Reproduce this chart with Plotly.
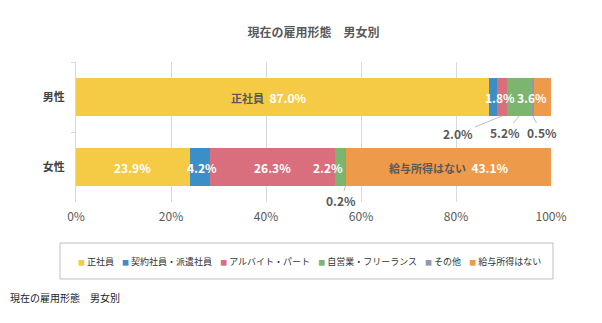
import plotly.graph_objects as go
import numpy as np

# ---- data ----
categories = ["男性", "女性"]
series_names = ["正社員", "契約社員・派遣社員", "アルバイト・パート", "自営業・フリーランス", "その他", "給与所得はない"]
male_values = [87.0, 1.8, 2.0, 5.2, 0.5, 3.6]
female_values = [23.9, 4.2, 26.3, 2.2, 0.2, 43.1]
x_tick_values = [0, 20, 40, 60, 80, 100]
x_tick_labels = ["0%", "20%", "40%", "60%", "80%", "100%"]
title_text = "現在の雇用形態　男女別"

colors = ["#F5CB45", "#3A8FC8", "#D96F7C", "#7CB66E", "#9197AE", "#EE9A4B"]
FONT = "Noto Sans CJK JP"
LABEL_GRAY = "#595959"

W, H = 602, 323
ML, MR, MT, MB = 76, 51, 62, 121
PW, PH = W - ML - MR, H - MT - MB


def px_x(p):
    return (p - ML) / PW


def px_y(p):
    return (H - MB - p) / PH


fig = go.Figure()
for i, name in enumerate(series_names):
    fig.add_trace(go.Bar(
        name=name,
        y=categories,
        x=[male_values[i], female_values[i]],
        orientation="h",
        marker=dict(color=colors[i], line=dict(width=0)),
        showlegend=False,
        hoverinfo="skip",
    ))

# normalized cumulative positions (100% stacked)
rows = {"男性": male_values, "女性": female_values}
mids = {}
for cat, vals in rows.items():
    v = np.array(vals, dtype=float)
    v = v / v.sum() * 100
    cum = np.concatenate([[0], np.cumsum(v)])
    mids[cat] = (cum[:-1] + cum[1:]) / 2

half = (1 - 0.46) / 2
ann = []
# inside labels: (category, series index, show name, xshift)
inside = [("男性", 0, True, -13), ("男性", 1, False, 7), ("男性", 5, False, -10),
          ("女性", 0, False, 0), ("女性", 1, False, 2), ("女性", 2, False, 0),
          ("女性", 3, False, -12), ("女性", 5, True, 0)]
for cat, si, show_name, xs in inside:
    val = rows[cat][si]
    t = f"<span style='color:white'>{val:.1f}%</span>"
    if show_name:
        t = f"<span style='color:{LABEL_GRAY};font-size:11px'>{series_names[si]}</span>  " + t
    ann.append(dict(x=mids[cat][si], y=cat, xref="x", yref="y", text=t, showarrow=False,
                    xshift=xs, font=dict(family=FONT, size=12, color="white", weight="bold")))

# callout labels: (category, series index, ax, ay)
callouts = [("男性", 2, -44, 18), ("男性", 3, -14, 17), ("男性", 4, 9, 17), ("女性", 4, -5, 15)]
for cat, si, ax, ay in callouts:
    yi = categories.index(cat) + half
    ann.append(dict(x=mids[cat][si], y=yi, xref="x", yref="y",
                    text=f"{rows[cat][si]:.1f}%", showarrow=True, arrowhead=0,
                    arrowwidth=1, arrowcolor="#BFBFBF", ax=ax, ay=ay, standoff=0,
                    font=dict(family=FONT, size=12, color=LABEL_GRAY, weight="bold")))

# legend row
items = []
for name, c in zip(series_names, colors):
    items.append(f"<span style='color:{c};font-size:7px'>■</span> {name}")
legend_text = "&nbsp;&nbsp;&nbsp;&nbsp;".join(items)
ann.append(dict(x=(px_x(75) + px_x(543)) / 2, y=px_y(261), xref="paper", yref="paper",
                text=legend_text, showarrow=False, xanchor="center", yanchor="middle",
                font=dict(family=FONT, size=9, color="#333333")))

# caption
ann.append(dict(x=px_x(8), y=px_y(297), xref="paper", yref="paper", text=title_text,
                showarrow=False, xanchor="left", yanchor="middle",
                font=dict(family=FONT, size=10, color="#222222")))

shapes = [dict(type="rect", xref="paper", yref="paper", x0=px_x(60), x1=px_x(553),
               y0=px_y(279), y1=px_y(243), line=dict(color="#BFBFBF", width=1))]

fig.update_layout(
    width=W, height=H,
    margin=dict(l=ML, r=MR, t=MT, b=MB),
    paper_bgcolor="white", plot_bgcolor="white",
    barmode="stack", barnorm="percent", bargap=0.46,
    title=dict(text=f"<b>{title_text}</b>", x=0.5, xref="paper", y=1 - 33 / H,
               yref="container", xanchor="center", yanchor="middle",
               font=dict(family=FONT, size=12, color=LABEL_GRAY)),
    xaxis=dict(range=[0, 100], tickvals=x_tick_values, ticktext=x_tick_labels,
               showgrid=True, gridcolor="#D9D9D9", gridwidth=1, zeroline=False,
               showline=False, ticks="", fixedrange=True, ticklabelstandoff=6,
               tickfont=dict(family=FONT, size=12, color=LABEL_GRAY)),
    yaxis=dict(categoryorder="array", categoryarray=categories, autorange="reversed",
               showline=True, linecolor="#D9D9D9", linewidth=1, ticks="outside",
               tickson="boundaries", ticklen=4, tickcolor="#D9D9D9",
               tickfont=dict(family=FONT, size=11, color="#404040", weight="bold"),
               ticklabelstandoff=8),
    annotations=ann,
    shapes=shapes,
    showlegend=False,
    font=dict(family=FONT),
)

fig.write_html("out.html")
